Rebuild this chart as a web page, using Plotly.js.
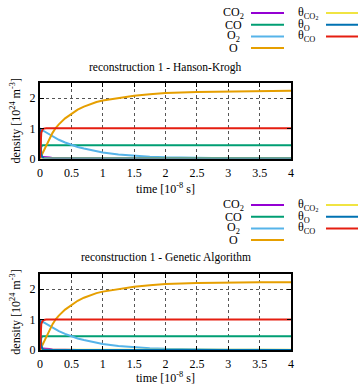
<!DOCTYPE html>
<html>
<head>
<meta charset="utf-8">
<script src="https://cdn.plot.ly/plotly-3.0.1.min.js"></script>
<style>
  html, body { margin: 0; padding: 0; background: #fff; }
  #chart { width: 358px; height: 385px; }
</style>
</head>
<body>
<div id="chart"></div>
<script>
// time axis [1e-8 s]
const time = [0, 0.01, 0.02, 0.04, 0.06, 0.1, 0.15, 0.2, 0.25, 0.3, 0.4, 0.5, 0.6, 0.7, 0.8, 0.9, 1.0, 1.25, 1.5, 1.75, 2.0, 2.5, 3.0, 3.5, 4.0];

// series names and colours
const seriesNames = ["CO<sub>2</sub>", "CO", "O<sub>2</sub>", "O", "θ<sub>CO<sub>2</sub></sub>", "θ<sub>O</sub>", "θ<sub>CO</sub>"];
const seriesColors = ["#9400d3", "#009e73", "#56b4e9", "#e69f00", "#f0e442", "#0072b2", "#e51e10"];

// reconstruction 1 - Hanson-Krogh  [1e24 m^-3]
const hkCO2   = [0, 0.03, 0.04, 0.05, 0.05, 0.04, 0.03, 0.02, 0.015, 0.01, 0.006, 0.004, 0.003, 0.003, 0.003, 0.003, 0.003, 0.003, 0.003, 0.003, 0.003, 0.003, 0.003, 0.003, 0.003];
const hkCO    = [0, 0.30, 0.40, 0.44, 0.44, 0.44, 0.44, 0.44, 0.44, 0.44, 0.44, 0.44, 0.44, 0.44, 0.44, 0.44, 0.44, 0.44, 0.44, 0.44, 0.44, 0.44, 0.44, 0.44, 0.44];
const hkO2    = [1.0, 0.99, 0.97, 0.94, 0.91, 0.86, 0.79, 0.73, 0.67, 0.62, 0.53, 0.45, 0.38, 0.33, 0.28, 0.24, 0.20, 0.13, 0.09, 0.06, 0.04, 0.02, 0.01, 0.005, 0.003];
const hkO     = [0, 0.045, 0.09, 0.18, 0.27, 0.45, 0.66, 0.85, 1.01, 1.13, 1.33, 1.49, 1.62, 1.72, 1.80, 1.87, 1.92, 2.01, 2.08, 2.13, 2.17, 2.20, 2.22, 2.23, 2.24];
const hkThCO2 = [0, 0.01, 0.01, 0.01, 0.01, 0.01, 0.01, 0.01, 0.01, 0.01, 0.01, 0.01, 0.01, 0.01, 0.01, 0.01, 0.01, 0.01, 0.01, 0.01, 0.01, 0.01, 0.01, 0.01, 0.01];
const hkThO   = [1.0, 0.40, 0.15, 0.03, 0.01, 0, 0, 0, 0, 0, 0, 0, 0, 0, 0, 0, 0, 0, 0, 0, 0, 0, 0, 0, 0];
const hkThCO  = [0, 0.60, 0.85, 0.96, 0.99, 1.0, 1.0, 1.0, 1.0, 1.0, 1.0, 1.0, 1.0, 1.0, 1.0, 1.0, 1.0, 1.0, 1.0, 1.0, 1.0, 1.0, 1.0, 1.0, 1.0];

// reconstruction 1 - Genetic Algorithm  [1e24 m^-3]
const gaCO2   = [0, 0.03, 0.04, 0.05, 0.05, 0.04, 0.03, 0.02, 0.015, 0.01, 0.006, 0.004, 0.003, 0.003, 0.003, 0.003, 0.003, 0.003, 0.003, 0.003, 0.003, 0.003, 0.003, 0.003, 0.003];
const gaCO    = [0, 0.30, 0.41, 0.45, 0.45, 0.45, 0.45, 0.45, 0.45, 0.45, 0.45, 0.45, 0.45, 0.45, 0.45, 0.45, 0.45, 0.45, 0.45, 0.45, 0.45, 0.45, 0.45, 0.45, 0.45];
const gaO2    = [1.0, 0.99, 0.97, 0.94, 0.91, 0.86, 0.79, 0.73, 0.67, 0.62, 0.53, 0.45, 0.38, 0.33, 0.28, 0.24, 0.20, 0.13, 0.09, 0.06, 0.04, 0.02, 0.01, 0.005, 0.003];
const gaO     = [0, 0.045, 0.09, 0.18, 0.27, 0.45, 0.66, 0.85, 1.01, 1.13, 1.33, 1.49, 1.62, 1.72, 1.80, 1.87, 1.92, 2.01, 2.08, 2.13, 2.17, 2.20, 2.22, 2.23, 2.23];
const gaThCO2 = [0, 0.01, 0.01, 0.01, 0.01, 0.01, 0.01, 0.01, 0.01, 0.01, 0.01, 0.01, 0.01, 0.01, 0.01, 0.01, 0.01, 0.01, 0.01, 0.01, 0.01, 0.01, 0.01, 0.01, 0.01];
const gaThO   = [1.0, 0.40, 0.15, 0.03, 0.01, 0, 0, 0, 0, 0, 0, 0, 0, 0, 0, 0, 0, 0, 0, 0, 0, 0, 0, 0, 0];
const gaThCO  = [0, 0.60, 0.85, 0.96, 0.99, 1.0, 1.0, 1.0, 1.0, 1.0, 1.0, 1.0, 1.0, 1.0, 1.0, 1.0, 1.0, 1.0, 1.0, 1.0, 1.0, 1.0, 1.0, 1.0, 1.0];

const panelTitles = ["reconstruction 1 - Hanson-Krogh", "reconstruction 1 - Genetic Algorithm"];
const panelSeries = [
  [hkCO2, hkCO, hkO2, hkO, hkThCO2, hkThO, hkThCO],
  [gaCO2, gaCO, gaO2, gaO, gaThCO2, gaThO, gaThCO]
];

// figure geometry (pixels)
const W = 358, H = 385;
const M = { l: 40, r: 67, t: 83, b: 35 };
const plotW = W - M.l - M.r, plotH = H - M.t - M.b;
const px = x => (x - M.l) / plotW;             // pixel x -> paper x
const py = y => (H - M.b - y) / plotH;         // pixel y -> paper y

const FONT = "Liberation Serif";

const traces = [];
panelSeries.forEach((set, p) => {
  set.forEach((vals, i) => {
    traces.push({
      x: time, y: vals,
      xaxis: p === 0 ? "x" : "x2",
      yaxis: p === 0 ? "y" : "y2",
      type: "scatter", mode: "lines",
      line: { color: seriesColors[i], width: 2 },
      name: seriesNames[i], showlegend: false, hoverinfo: "skip"
    });
  });
});

function xAxis(anchor) {
  return {
    anchor, domain: [0, 1], range: [0, 4], dtick: 0.5, tick0: 0,
    showline: true, linewidth: 2, linecolor: "#000", mirror: "ticks",
    ticks: "inside", ticklen: 4, tickwidth: 1, tickcolor: "#000",
    showgrid: true, gridcolor: "#555", griddash: "dot", gridwidth: 1,
    zeroline: false, fixedrange: true,
    tickfont: { family: FONT, size: 12, color: "#000" },
    ticklabelstandoff: 2,
    title: { text: "time [10<sup>-8</sup> s]", font: { family: FONT, size: 12, color: "#000" }, standoff: 6 },
    automargin: false
  };
}
function yAxis(anchor, domain) {
  return {
    anchor, domain, range: [0, 2.5], dtick: 1, tick0: 0,
    showline: true, linewidth: 2, linecolor: "#000", mirror: "ticks",
    ticks: "inside", ticklen: 4, tickwidth: 1, tickcolor: "#000",
    showgrid: true, gridcolor: "#555", griddash: "dot", gridwidth: 1,
    zeroline: false, fixedrange: true,
    tickfont: { family: FONT, size: 12, color: "#000" },
    title: { text: "density [10<sup>24</sup> m<sup>-3</sup>]", font: { family: FONT, size: 12, color: "#000" }, standoff: 6 },
    automargin: false
  };
}

const annotations = [];
const shapes = [];

// panel titles
const titleY = [67, 257];
panelTitles.forEach((txt, p) => {
  annotations.push({
    text: txt, xref: "paper", yref: "paper", x: 0.5, y: py(titleY[p]),
    xanchor: "center", yanchor: "middle", showarrow: false,
    font: { family: FONT, size: 11.5, color: "#000" }
  });
});

// key blocks above each panel: first four series in the left column, rest on the right
const keyTop = [13, 205];
const rowGap = 11.7;
panelTitles.forEach((_, p) => {
  seriesNames.forEach((name, i) => {
    const col = i < 4 ? 0 : 1;
    const row = col === 0 ? i : i - 4;
    const yRow = keyTop[p] + row * rowGap;
    annotations.push({
      text: name, xref: "paper", yref: "paper",
      x: px(col === 0 ? 233 : 296), y: py(yRow),
      xanchor: col === 0 ? "center" : "left", yanchor: "middle", showarrow: false,
      font: { family: FONT, size: 12, color: "#000" }
    });
    shapes.push({
      type: "line", xref: "paper", yref: "paper",
      x0: px(col === 0 ? 251 : 326), x1: px(col === 0 ? 284 : 362),
      y0: py(yRow), y1: py(yRow),
      line: { color: seriesColors[i], width: 2 }
    });
  });
});

const layout = {
  width: W, height: H,
  margin: M,
  paper_bgcolor: "#fff", plot_bgcolor: "#fff",
  showlegend: false,
  font: { family: FONT, size: 12, color: "#000" },
  xaxis: xAxis("y"),
  yaxis: yAxis("x", [py(158.5), 1]),
  xaxis2: xAxis("y2"),
  yaxis2: yAxis("x2", [0, py(274)]),
  annotations, shapes
};

Plotly.newPlot("chart", traces, layout, { displayModeBar: false, staticPlot: true });
</script>
</body>
</html>
